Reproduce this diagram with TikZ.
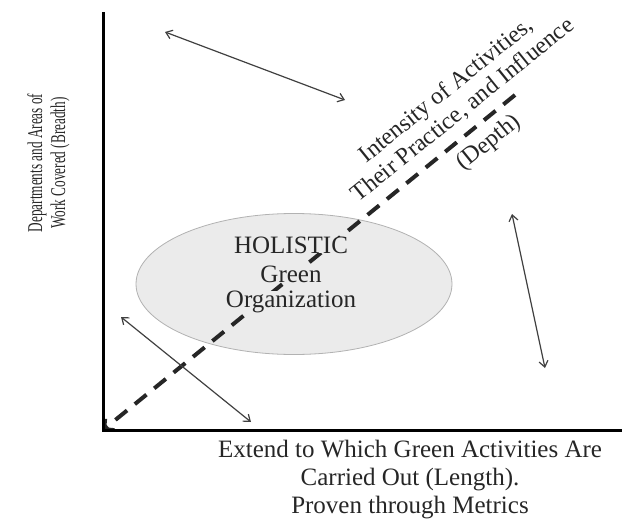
\documentclass[tikz,border=0pt]{standalone}
\usepackage{fontspec}
\usepackage{graphicx}
\setmainfont{Liberation Serif}
\usetikzlibrary{arrows.meta,shapes.geometric}
\begin{document}
\begin{tikzpicture}[x=1pt,y=-1pt,
  axis/.style={line width=3pt, draw=black, line join=miter},
  depthline/.style={line width=4pt, dash pattern=on 15pt off 10pt, draw=black!85},
  twoway/.style={line width=1.2pt, draw=black!75,
    {Straight Barb[length=6pt,width=9pt]}-{Straight Barb[length=6pt,width=9pt]}},
  lbl/.style={font=\fontsize{25}{28}\selectfont, text=black!85, align=center, inner sep=0pt},
  diag/.style={font=\fontsize{24}{27}\selectfont, text=black!85, inner sep=0pt, rotate=38.9},
  orgline/.style={font=\fontsize{25}{28}\selectfont, text=black!85, fill=black!8, inner sep=0pt},
  blob/.style={ellipse, draw=black!30, line width=0.8pt, fill=black!8,
    minimum width=316pt, minimum height=141pt, inner sep=0pt},
]
\useasboundingbox (0,0) rectangle (622,525);

% axes
\coordinate (O) at (103,430);
\coordinate (ytop) at (103,12);
\coordinate (xend) at (622,430);

% the holistic organization
\node[blob] (org) at (294,284) {};

% depth direction
\coordinate (dend) at (515,95);
\draw[depthline, -{Straight Barb[length=7pt,width=14pt,line width=3pt]}] (dend) -- (O);

\node[orgline] (holistic) at (291,245) {HOLISTIC};
\node[orgline] (green) at (291,274) {Green};
\node[orgline] (organization) at (291,302) {Organization};

\draw[axis] (ytop) -- (O) -- (xend);

% two-way arrows
\coordinate (a1) at (165,32);
\coordinate (a2) at (345,100);
\draw[twoway] (a1) -- (a2);
\coordinate (b1) at (512,214);
\coordinate (b2) at (545,368);
\draw[twoway] (b1) -- (b2);
\coordinate (c1) at (121,317);
\coordinate (c2) at (251,422);
\draw[twoway] (c1) -- (c2);

% labels along the depth direction
\node[diag] (depth1) at (447,91) {Intensity of Activities,};
\node[diag] (depth2) at (463,110) {Their Practice, and Influence};
\node[diag] (depth3) at (489,143) {(Depth)};

\node[lbl] (length) at (410,480)
  {Extend to Which Green Activities Are\\Carried Out (Length).\\Proven through Metrics};
\node[rotate=90, inner sep=0pt, text=black!85, font=\fontsize{21}{23}\selectfont] (breadth) at (49,163)
  {\scalebox{0.63}[1]{\begin{tabular}{@{}c@{}}Departments and Areas of\\Work Covered (Breadth)\end{tabular}}};
\end{tikzpicture}
\end{document}
